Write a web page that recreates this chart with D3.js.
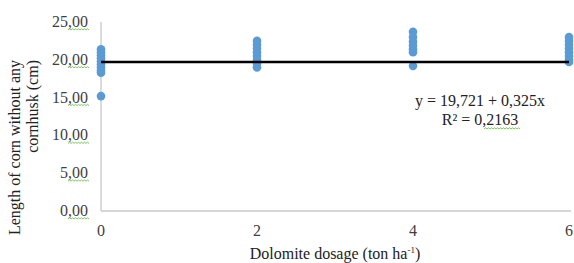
<!DOCTYPE html>
<html>
<head>
<meta charset="utf-8">
<script src="https://cdn.jsdelivr.net/npm/d3@7"></script>
<style>
  body { margin: 0; background: #fff; }
  svg { display: block; }
</style>
</head>
<body>
<div id="chart"></div>
<script>
// dolomite dosage groups and the corn lengths read at each one
const doses = [0, 2, 4, 6];
const lengths0 = [21.4, 21.0, 20.6, 20.2, 19.8, 19.4, 19.0, 18.6, 18.3, 15.2];
const lengths2 = [22.5, 22.0, 21.5, 21.0, 20.5, 20.0, 19.5, 19.0];
const lengths4 = [23.7, 23.0, 22.4, 21.9, 21.4, 21.0, 19.2];
const lengths6 = [23.0, 22.5, 22.0, 21.5, 21.0, 20.5, 20.0, 19.7];
const yTicks = [0, 5, 10, 15, 20, 25];
const xTicks = [0, 2, 4, 6];
// trend line as drawn in the figure
const trendX = [0, 6];
const trendY = [19.72, 19.72];
const equationLines = ["y = 19,721 + 0,325x", "R\u00B2 = 0,2163"];

const width = 574, height = 263;
const margin = {top: 22, right: 5, bottom: 52, left: 101};

const svg = d3.select("#chart").append("svg")
    .attr("width", width)
    .attr("height", height)
    .style("font-family", "'Liberation Serif', 'Times New Roman', serif");

const x = d3.scaleLinear().domain([0, 6]).range([margin.left, 569]);
const y = d3.scaleLinear().domain([0, 25]).range([211, margin.top]);

// axes lines (no tick marks)
svg.append("line")
    .attr("x1", x(0)).attr("x2", x(0))
    .attr("y1", y(25)).attr("y2", y(0))
    .attr("stroke", "#c8c8c8").attr("stroke-width", 1.3);
svg.append("line")
    .attr("x1", x(0)).attr("x2", 571)
    .attr("y1", y(0)).attr("y2", y(0))
    .attr("stroke", "#c8c8c8").attr("stroke-width", 1.3);

// small wavy underline like the spellcheck marks in the source
function squiggle(x0, x1, yy) {
    let d = `M${x0},${yy}`;
    let up = true;
    for (let xx = x0 + 1.5; xx <= x1; xx += 1.5) {
        d += ` L${xx},${up ? yy - 1.2 : yy}`;
        up = !up;
    }
    return d;
}

const fmt = v => d3.format(".2f")(v).replace(".", ",");

const yLabels = svg.append("g");
yTicks.forEach(t => {
    yLabels.append("text")
        .attr("x", 88)
        .attr("y", y(t) + 5)
        .attr("text-anchor", "end")
        .attr("font-size", "16px")
        .attr("fill", "#404040")
        .text(fmt(t));
    yLabels.append("path")
        .attr("d", squiggle(68, 89, y(t) + 8))
        .attr("fill", "none")
        .attr("stroke", "#6fbf4a")
        .attr("stroke-width", 0.9);
});

svg.append("g").selectAll("text")
    .data(xTicks)
    .enter()
    .append("text")
    .attr("x", d => x(d))
    .attr("y", 236)
    .attr("text-anchor", "middle")
    .attr("font-size", "16px")
    .attr("fill", "#404040")
    .text(d => d);

// axis titles
svg.append("text")
    .attr("x", 335)
    .attr("y", 259)
    .attr("text-anchor", "middle")
    .attr("font-size", "16px")
    .attr("fill", "#222")
    .html("Dolomite dosage (ton ha<tspan font-size='9px' dy='-6'>-1</tspan><tspan dy='6'>)</tspan>");

const yTitle = svg.append("text")
    .attr("transform", "translate(0,60) rotate(-90)")
    .attr("text-anchor", "end")
    .attr("font-size", "16px")
    .attr("fill", "#222");
yTitle.append("tspan").attr("x", 0).attr("y", 20).text("Length of corn without any");
yTitle.append("tspan").attr("x", 0).attr("y", 38).text("cornhusk (cm)");

// points
const groups = [lengths0, lengths2, lengths4, lengths6];
const pts = [];
groups.forEach((vals, i) => vals.forEach(v => pts.push({dose: doses[i], len: v})));

svg.append("g").selectAll("circle")
    .data(pts)
    .enter()
    .append("circle")
    .attr("cx", d => x(d.dose))
    .attr("cy", d => y(d.len))
    .attr("r", 4.3)
    .attr("fill", "#5b9bd5");

// trend line
svg.append("line")
    .attr("x1", x(trendX[0])).attr("x2", x(trendX[1]))
    .attr("y1", y(trendY[0])).attr("y2", y(trendY[1]))
    .attr("stroke", "#000").attr("stroke-width", 2.5);

// equation
equationLines.forEach((t, i) => {
    svg.append("text")
        .attr("x", 480)
        .attr("y", 106 + i * 19)
        .attr("text-anchor", "middle")
        .attr("font-size", "16px")
        .attr("fill", "#222")
        .text(t);
});
svg.append("path")
    .attr("d", squiggle(484, 521, 129))
    .attr("fill", "none")
    .attr("stroke", "#6fbf4a")
    .attr("stroke-width", 0.9);
</script>
</body>
</html>
